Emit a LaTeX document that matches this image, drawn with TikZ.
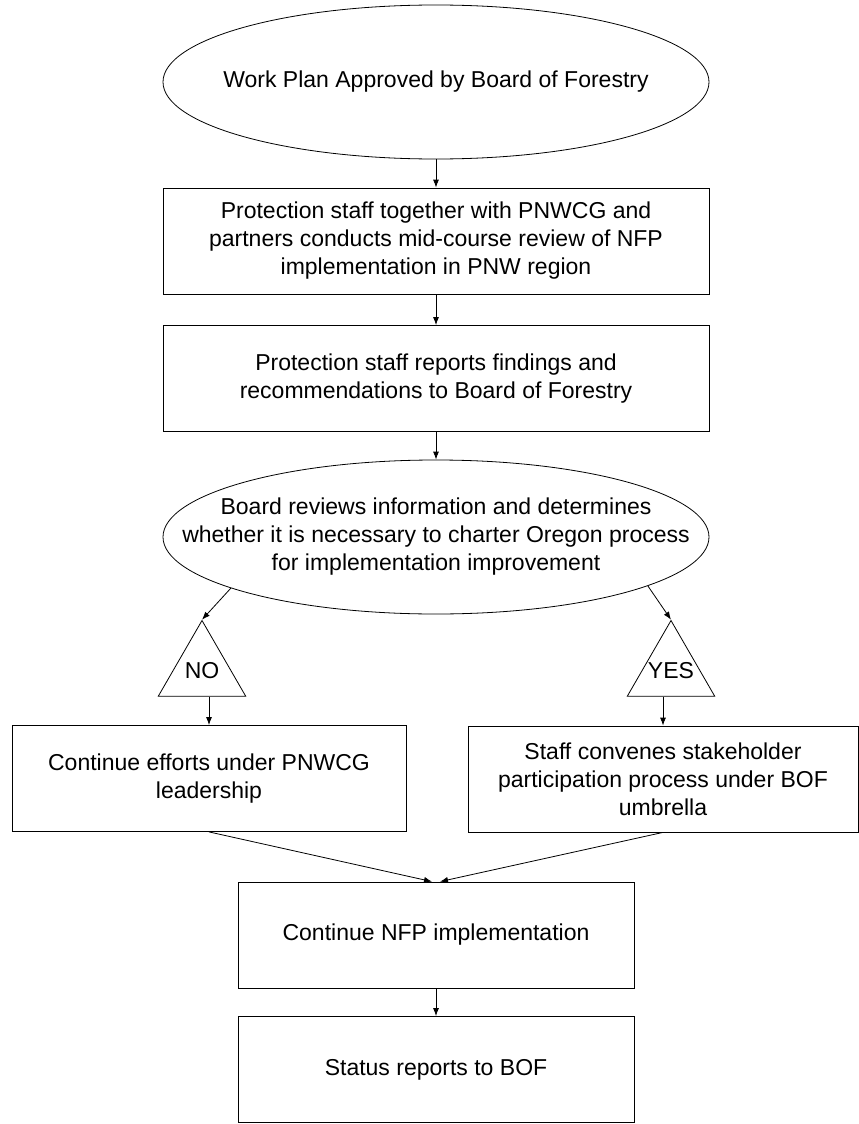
\documentclass[tikz,border=0pt]{standalone}
\usepackage{fontspec}
\setmainfont{Liberation Sans}
\usetikzlibrary{shapes.geometric,arrows.meta}
\begin{document}
\begin{tikzpicture}[x=1pt,y=-1pt,line width=0.8pt,
  >={Latex[length=8pt,width=6pt]},
  font=\fontsize{23}{28}\selectfont,
  every node/.style={inner sep=0pt,align=center},
  box/.style={draw,rectangle,minimum height=106pt},
  oval/.style={draw,ellipse,minimum width=546pt,minimum height=154pt},
  tri/.style={draw,regular polygon,regular polygon sides=3,minimum size=101pt}]
\useasboundingbox (0,0) rectangle (859,1124);

% ovals and triangles drawn empty, text set on top
\node[oval] (work) at (436,82) {};
\node at (work) {Work Plan Approved by Board of Forestry};
\node[box,minimum width=546pt] (review) at (436,241) {Protection staff together with PNWCG and\\ partners conducts mid-course review of NFP\\ implementation in PNW region};
\node[box,minimum width=546pt] (report) at (436,378.5) {Protection staff reports findings and\\ recommendations to Board of Forestry};
\node[oval] (board) at (436,537) {};
\node at (board) {Board reviews information and determines\\ whether it is necessary to charter Oregon process\\ for implementation improvement};

\node[tri] (no) at (202,671) {};
\node at (no) {NO};
\node[tri] (yes) at (671,671) {};
\node at (yes) {YES};

\node[box,minimum width=394pt] (nobox) at (209,778.5) {Continue efforts under PNWCG\\ leadership};
\node[box,minimum width=390pt] (yesbox) at (663,779) {Staff convenes stakeholder\\ participation process under BOF\\ umbrella};

\node[box,minimum width=396pt] (nfp) at (436,935) {Continue NFP implementation};
\node[box,minimum width=396pt] (status) at (436,1069.5) {Status reports to BOF};

% main stack
\draw[->] (work) -- (review);
\draw[->] (review) -- (report);
\draw[->] (report) -- (board);

% decision
\draw[->] (board.194) -- (no.corner 1);
\draw[->] (board.-13) -- (yes.corner 1);
\draw[->] (no.south -| nobox) -- (nobox.north);
\draw[->] (yes.south -| yesbox) -- (yesbox.north);

% merge
\draw[->] (nobox.south) -- ([xshift=-4pt]nfp.north);
\draw[->] (yesbox.south) -- ([xshift=4pt]nfp.north);
\draw[->] (nfp) -- (status);
\end{tikzpicture}
\end{document}
